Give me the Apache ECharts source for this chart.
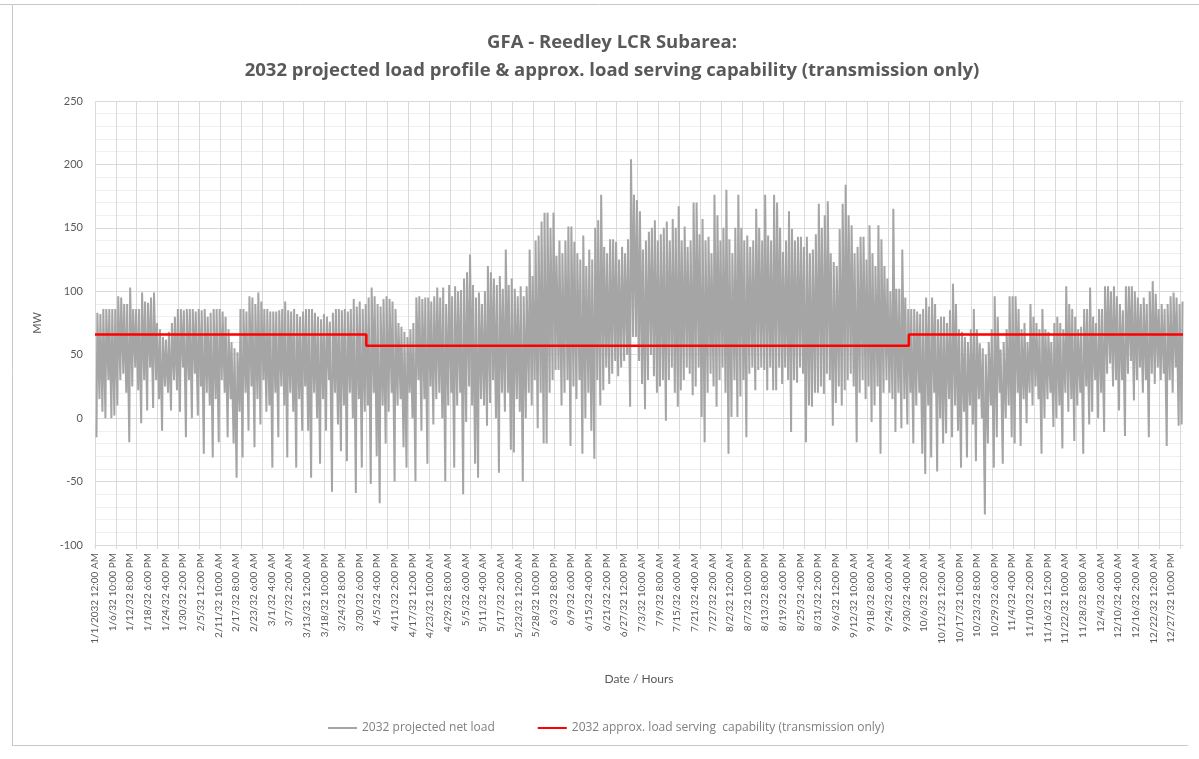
<!DOCTYPE html>
<html>
<head>
<meta charset="utf-8">
<script src="https://cdn.jsdelivr.net/npm/echarts@6/dist/echarts.min.js"></script>
<style>
  html, body { margin: 0; padding: 0; background: #fff; }
  #chart { width: 1199px; height: 759px; }
</style>
</head>
<body>
<div id="chart"></div>
<script>
// daily peak / trough of the projected net load (MW), one value per day, Jan 1 .. Dec 31 (365 days, data has no Feb 29)
const dailyMax = [
  // Jan
  83, 82, 86, 86, 86, 86, 86, 96, 95, 90, 90, 103, 86, 86, 86, 99, 92, 91, 95, 99, 75, 70, 64, 62, 68, 75, 80, 86, 86, 85, 86,
  // Feb
  86, 86, 84, 86, 85, 86, 80, 83, 86, 86, 86, 84, 80, 70, 60, 55, 52, 86, 86, 84, 96, 95, 90, 99, 92, 86, 86, 84,
  // Mar
  84, 84, 85, 86, 92, 85, 84, 86, 82, 80, 84, 86, 86, 86, 83, 80, 78, 82, 80, 76, 83, 86, 86, 85, 86, 84, 86, 94, 88, 92, 86,
  // Apr
  90, 95, 103, 96, 90, 88, 94, 96, 94, 92, 86, 75, 72, 68, 64, 70, 75, 95, 96, 94, 95, 95, 92, 96, 103, 95, 103, 90, 105, 96,
  // May
  104, 100, 101, 110, 115, 129, 105, 95, 99, 90, 100, 120, 115, 110, 105, 112, 102, 133, 105, 110, 102, 96, 104, 96, 104, 133, 112, 140, 144, 155, 162,
  // Jun
  162, 150, 162, 128, 140, 130, 140, 151, 151, 139, 130, 125, 144, 120, 133, 125, 150, 156, 176, 135, 130, 141, 141, 139, 125, 135, 130, 141, 204, 176,
  // Jul
  172, 163, 133, 140, 147, 150, 156, 140, 145, 150, 155, 140, 157, 150, 167, 140, 151, 135, 140, 170, 170, 145, 157, 140, 143, 130, 176, 160, 140, 150, 180,
  // Aug
  141, 130, 150, 176, 150, 140, 144, 135, 140, 165, 150, 140, 176, 144, 140, 176, 170, 150, 131, 140, 163, 149, 140, 143, 143, 135, 143, 130, 133, 145, 169,
  // Sep
  150, 160, 171, 130, 123, 120, 149, 169, 184, 160, 152, 130, 135, 143, 143, 125, 152, 130, 120, 152, 141, 120, 110, 100, 165, 102, 102, 133, 95, 86,
  // Oct
  86, 86, 84, 82, 86, 95, 88, 95, 90, 78, 80, 80, 75, 85, 106, 90, 70, 68, 64, 60, 70, 86, 70, 59, 55, 50, 60, 70, 96, 80, 54,
  // Nov
  60, 70, 96, 96, 96, 86, 70, 75, 60, 90, 80, 75, 70, 86, 70, 68, 60, 75, 80, 75, 70, 104, 90, 86, 80, 70, 72, 86, 86, 103,
  // Dec
  80, 75, 86, 86, 104, 104, 100, 104, 96, 90, 85, 104, 104, 104, 100, 95, 90, 95, 90, 100, 108, 98, 86, 90, 86, 90, 96, 99, 95, 90, 92
];
const dailyMin = [
  // Jan
  -15, 15, 5, 0, 30, 0, 2, 10, 30, 35, 20, -19, 25, 40, 22, -4, 30, 6, 40, 8, 30, 15, -10, 25, 20, 6, 30, 22, 5, 40, -15,
  // Feb
  30, 0, 35, 2, 25, -28, 20, 10, -31, 15, -19, 30, 20, -15, 15, -20, -47, 5, -31, 20, -10, 25, -23, 15, -5, 30, 5, 10,
  // Mar
  -39, 20, -15, 25, 10, -31, 20, 5, -39, 15, -10, 25, -10, -47, 20, 0, -36, 15, -10, 30, -58, 20, -5, -26, 10, -34, 20, 0, -59, 15, -39,
  // Apr
  5, 10, -52, 20, -30, -67, 10, -20, 5, 20, -50, 10, 15, -23, -39, 20, 0, -50, 30, -10, 15, -36, 25, -5, 15, 20, 0, -50, 10, 20,
  // May
  -39, 10, 20, -60, -3, 25, 10, -36, -47, 15, 10, -6, 12, 30, 0, -43, 20, 5, 20, -25, -27, 15, 5, -50, 0, 20, 10, 30, -8, 20, -20,
  // Jun
  -20, 20, 30, 38, 38, 10, 20, 30, -22, 25, 15, 30, -28, 0, 20, -10, -32, 30, 10, 22, 40, 27, 35, 45, 33, 40, 45, 50, 9, 64,
  // Jul
  64, 45, 27, 7, 30, 50, 33, 20, 25, 30, -2, 30, 40, 20, 9, 22, 30, 40, 35, 18, 25, 40, 1, -19, 20, 35, 25, 9, 30, 40, 20,
  // Aug
  -28, 1, 30, 1, 17, 30, -15, 35, 40, 22, 38, 40, 38, 22, 40, 22, 22, 40, 27, 40, 30, -11, 30, 28, 40, 35, -19, 10, 9, 20, 20,
  // Sep
  25, 19, 35, 30, -6, 12, 25, 10, 22, 30, 35, 25, -19, 20, 30, 15, 25, -3, 10, 25, -28, 20, 30, 20, 15, -11, 20, -8, 15, -5,
  // Oct
  20, -20, 10, 20, -28, -44, 10, -31, 20, -42, 0, -20, -12, 15, -15, 10, -10, -39, 5, -31, 10, -5, -34, 15, 0, -76, -20, 10, -39, -15, 20,
  // Nov
  -36, 0, 10, -15, -20, 20, -22, 15, -4, 20, 10, 25, 15, -28, 0, 15, 20, -7, 0, 10, -24, 20, 5, 15, -18, 10, 20, -28, 25, -5,
  // Dec
  5, 30, 0, 20, -11, 35, 43, 25, 30, 6, 30, -14, 35, 45, 14, 30, 40, 20, 30, -15, 35, 27, 40, 30, 35, -22, 30, 20, 40, -6, -5
];
// load serving capability (transmission only): start hour index of each period and its MW level
const capStartHour = [0, 2184, 6552];
const capValue = [66, 57, 66];

const monthDays = [31, 28, 31, 30, 31, 30, 31, 31, 30, 31, 30, 31];
const peakHour = 19;
const troughHour = 12;

// hourly categories as the spreadsheet shows them
const categories = [];
monthDays.forEach((n, m) => {
  for (let d = 1; d <= n; d++) {
    for (let h = 0; h < 24; h++) {
      const h12 = h % 12 === 0 ? 12 : h % 12;
      const ap = h < 12 ? 'AM' : 'PM';
      const yr = categories.length === 0 ? '2032' : '32';
      categories.push((m + 1) + '/' + d + '/' + yr + ' ' + h12 + ':00 ' + ap);
    }
  }
});

const loadData = [];
dailyMax.forEach((v, d) => {
  loadData.push([d * 24 + troughHour, dailyMin[d]]);
  loadData.push([d * 24 + peakHour, v]);
});

const capData = capStartHour.map((h, i) => [h, capValue[i]]);
capData.push([categories.length - 1, capValue[capValue.length - 1]]);

const font = 'Lato, "Liberation Sans", sans-serif';
const chart = echarts.init(document.getElementById('chart'));
chart.setOption({
  animation: false,
  textStyle: { fontFamily: font },
  title: {
    text: 'GFA - Reedley LCR Subarea:\n2032 projected load profile & approx. load serving capability (transmission only)',
    left: 607,
    top: 24,
    textAlign: 'center',
    textStyle: { fontSize: 18.5, fontWeight: 'bold', color: '#595959', lineHeight: 28, fontFamily: '"Open Sans", sans-serif' }
  },
  // sheet cell borders around the chart
  graphic: [
    { type: 'line', shape: { x1: 0, y1: 4.5, x2: 1199, y2: 4.5 }, style: { stroke: '#c8c8c8', lineWidth: 1 } },
    { type: 'line', shape: { x1: 12.5, y1: 4, x2: 12.5, y2: 745 }, style: { stroke: '#c8c8c8', lineWidth: 1 } },
    { type: 'line', shape: { x1: 12, y1: 745.5, x2: 1188, y2: 745.5 }, style: { stroke: '#c8c8c8', lineWidth: 1 } }
  ],
  grid: { left: 95, right: 16, top: 101, bottom: 214 },
  legend: {
    top: 717,
    left: 323,
    icon: 'rect',
    itemWidth: 29,
    itemHeight: 2,
    itemGap: 43,
    textStyle: { fontSize: 12, color: '#7f7f7f', fontFamily: '"Open Sans", sans-serif' },
    data: ['2032 projected net load', '2032 approx. load serving  capability (transmission only)']
  },
  xAxis: {
    type: 'category',
    data: categories,
    boundaryGap: false,
    name: 'Date / Hours',
    nameLocation: 'middle',
    nameGap: 128,
    nameTextStyle: { fontSize: 12, color: '#595959' },
    axisLine: { onZero: false, lineStyle: { color: '#d9d9d9' } },
    axisTick: { show: true, interval: 167, length: 4, lineStyle: { color: '#d9d9d9' } },
    axisLabel: { interval: 141, rotate: 90, fontSize: 10, color: '#595959', margin: 8 },
    splitLine: { show: true, interval: 167, lineStyle: { color: '#d9d9d9', width: 1 } }
  },
  yAxis: {
    type: 'value',
    min: -100,
    max: 250,
    interval: 50,
    name: 'MW',
    nameLocation: 'middle',
    nameGap: 52,
    nameRotate: 90,
    nameTextStyle: { fontSize: 11, color: '#595959' },
    axisLine: { show: false },
    axisTick: { show: false },
    axisLabel: { fontSize: 11, color: '#595959', margin: 12 },
    splitLine: { lineStyle: { color: '#d9d9d9' } },
    minorTick: { show: false, splitNumber: 5 },
    minorSplitLine: { show: true, lineStyle: { color: '#efefef' } }
  },
  series: [
    {
      name: '2032 projected net load',
      type: 'line',
      data: loadData,
      symbol: 'none',
      sampling: null,
      color: '#a5a5a5',
      lineStyle: { color: '#a5a5a5', width: 2 }
    },
    {
      name: '2032 approx. load serving  capability (transmission only)',
      type: 'line',
      data: capData,
      step: 'end',
      symbol: 'none',
      color: '#ff0000',
      lineStyle: { color: '#ff0000', width: 2.5 },
      z: 3
    }
  ]
});
</script>
</body>
</html>
